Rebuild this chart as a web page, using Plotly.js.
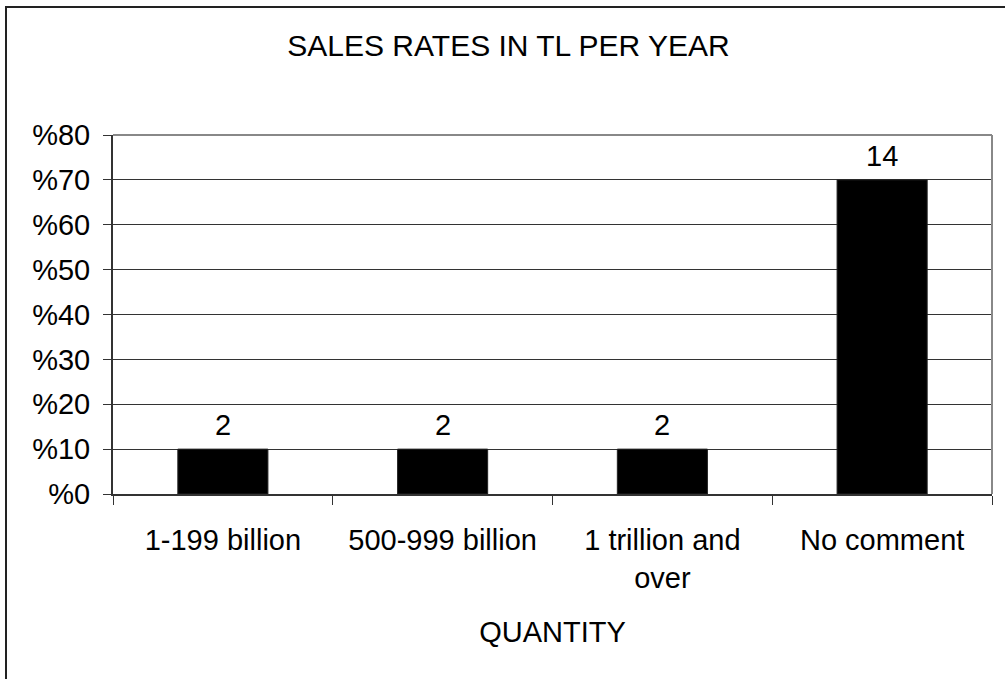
<!DOCTYPE html>
<html>
<head>
<meta charset="utf-8">
<script src="https://cdn.plot.ly/plotly-3.0.1.min.js"></script>
<style>
  html, body { margin: 0; padding: 0; background: #ffffff; }
  #chart { width: 1005px; height: 679px; }
</style>
</head>
<body>
<div id="chart"></div>
<script>
// Yearly sales bands and the number of respondents in each
const categories = ['1-199 billion', '500-999 billion', '1 trillion and<br>over', 'No comment'];
const counts = [2, 2, 2, 14];
const total = counts.reduce((a, b) => a + b, 0);
// share of respondents, in percent
const shares = counts.map(c => c / total * 100);

const yTicks = [0, 10, 20, 30, 40, 50, 60, 70, 80];

const FONT = '"Liberation Sans", Arial, Helvetica, sans-serif';

// plot area in pixels: left 113, right 992, top 135, bottom 494
const W = 1005, H = 679;
const L = 113, R = 992, T = 135, B = 494;
const px = x => (x - L) / (R - L);
const py = y => (B - y) / (B - T);

const trace = {
  type: 'bar',
  x: categories,
  y: shares,
  marker: { color: '#000000', line: { color: '#222222', width: 1 } },
  hoverinfo: 'skip'
};

const valueLabels = categories.map((c, i) => ({
  x: c,
  y: shares[i],
  xref: 'x',
  yref: 'y',
  text: String(counts[i]),
  showarrow: false,
  yanchor: 'bottom',
  yshift: 6,
  font: { family: FONT, size: 29, color: '#000000' }
}));

const layout = {
  width: W,
  height: H,
  margin: { l: L, r: W - R, t: T, b: H - B, pad: 0 },
  paper_bgcolor: '#ffffff',
  plot_bgcolor: '#ffffff',
  showlegend: false,
  bargap: 0.59,
  font: { family: FONT, size: 29, color: '#000000' },
  title: {
    text: 'SALES RATES IN TL PER YEAR',
    font: { family: FONT, size: 30, color: '#000000' },
    x: 508.5 / W,
    xref: 'container',
    xanchor: 'center',
    y: 1 - 45 / H,
    yref: 'container',
    yanchor: 'middle'
  },
  xaxis: {
    type: 'category',
    tickson: 'boundaries',
    ticks: 'outside',
    ticklen: 9,
    tickwidth: 1,
    tickcolor: '#333333',
    ticklabelstandoff: 19,
    showline: true,
    linecolor: '#333333',
    linewidth: 2,
    showgrid: false,
    zeroline: false,
    tickfont: { family: FONT, size: 29, color: '#000000' },
    title: {
      text: 'QUANTITY',
      font: { family: FONT, size: 29, color: '#000000' },
      standoff: 29
    },
    automargin: false,
    fixedrange: true
  },
  yaxis: {
    range: [0, 80],
    tickvals: yTicks,
    ticktext: yTicks.map(v => '%' + v),
    ticks: 'outside',
    ticklen: 8,
    tickwidth: 1,
    tickcolor: '#333333',
    ticklabelstandoff: 7,
    showline: true,
    linecolor: '#333333',
    linewidth: 2,
    showgrid: true,
    gridcolor: '#333333',
    gridwidth: 1,
    zeroline: false,
    tickfont: { family: FONT, size: 29, color: '#000000' },
    automargin: false,
    fixedrange: true
  },
  annotations: valueLabels,
  shapes: [
    // grey frame on the top and right of the plot area
    { type: 'line', xref: 'paper', yref: 'paper', x0: 0, x1: 1, y0: 1, y1: 1,
      line: { color: '#888888', width: 2 }, layer: 'above' },
    { type: 'line', xref: 'paper', yref: 'paper', x0: 1, x1: 1, y0: 0, y1: 1,
      line: { color: '#888888', width: 2 }, layer: 'above' },
    // outer chart border
    { type: 'rect', xref: 'paper', yref: 'paper',
      x0: px(6), x1: px(1011), y0: py(690), y1: py(7),
      line: { color: '#222222', width: 2 }, fillcolor: 'rgba(0,0,0,0)', layer: 'above' }
  ]
};

Plotly.newPlot('chart', [trace], layout, { staticPlot: true, displayModeBar: false });
</script>
</body>
</html>
